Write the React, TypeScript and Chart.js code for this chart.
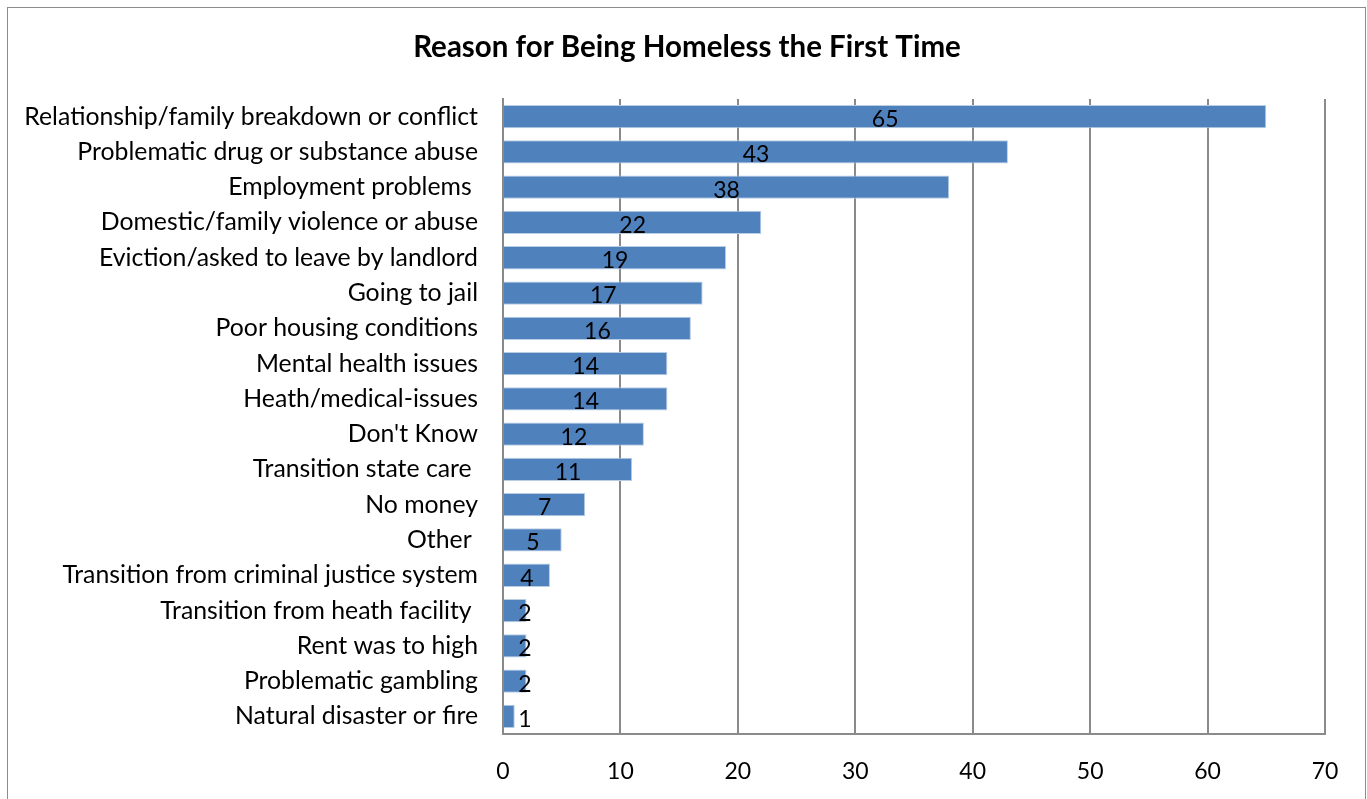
import React, { useEffect, useRef } from "react";
import { Chart, registerables } from "chart.js";

Chart.register(...registerables);

const categories = [
  "Relationship/family breakdown or conflict",
  "Problematic drug or substance abuse",
  "Employment problems ",
  "Domestic/family violence or abuse",
  "Eviction/asked to leave by landlord",
  "Going to jail",
  "Poor housing conditions",
  "Mental health issues",
  "Heath/medical-issues",
  "Don't Know",
  "Transition state care ",
  "No money",
  "Other ",
  "Transition from criminal justice system",
  "Transition from heath facility ",
  "Rent was to high",
  "Problematic gambling",
  "Natural disaster or fire",
];
const values = [65, 43, 38, 22, 19, 17, 16, 14, 14, 12, 11, 7, 5, 4, 2, 2, 2, 1];
const xTicks = [0, 10, 20, 30, 40, 50, 60, 70];
const titleText = "Reason for Being Homeless the First Time";

const FONT = "Lato, 'Open Sans', sans-serif";

const framePlugin = {
  id: "frame",
  beforeDraw(chart: any) {
    const ctx = chart.ctx;
    ctx.save();
    ctx.fillStyle = "#ffffff";
    ctx.fillRect(0, 0, chart.width, chart.height);
    ctx.strokeStyle = "#8c8c8c";
    ctx.lineWidth = 1;
    ctx.strokeRect(7.5, 7.5, 1358, 820);
    ctx.fillStyle = "#000000";
    ctx.font = `bold 29.5px ${FONT}`;
    ctx.textAlign = "center";
    ctx.textBaseline = "middle";
    ctx.fillText(titleText, 687, 47);
    ctx.restore();
  },
};

const labelPlugin = {
  id: "barLabels",
  afterDatasetsDraw(chart: any) {
    const ctx = chart.ctx;
    const meta = chart.getDatasetMeta(0);
    const left = chart.chartArea.left;
    ctx.save();
    ctx.fillStyle = "#000000";
    ctx.font = `23px ${FONT}`;
    ctx.textAlign = "center";
    ctx.textBaseline = "middle";
    meta.data.forEach((bar: any, i: number) => {
      const cx = Math.max((bar.base + bar.x) / 2, left + 22);
      ctx.fillText(String(values[i]), cx, bar.y + 3);
    });
    ctx.restore();
  },
};

export default function App() {
  const ref = useRef<HTMLCanvasElement | null>(null);
  useEffect(() => {
    if (!ref.current) return;
    const chart = new Chart(ref.current, {
      type: "bar",
      data: {
        labels: categories,
        datasets: [
          {
            data: values,
            backgroundColor: "#4f81bd",
            borderColor: "#b9cde5",
            borderWidth: 1,
            barPercentage: 0.66,
            categoryPercentage: 1,
          },
        ],
      },
      options: {
        indexAxis: "y",
        animation: false,
        responsive: false,
        maintainAspectRatio: false,
        layout: { padding: { top: 99, right: 42, bottom: 0, left: 0 } },
        plugins: {
          legend: { display: false },
          title: { display: false },
          tooltip: { enabled: false },
        },
        scales: {
          x: {
            min: 0,
            max: 70,
            afterBuildTicks(scale: any) {
              scale.ticks = xTicks.map((v) => ({ value: v }));
            },
            afterFit(scale: any) {
              scale.height = 65;
            },
            grid: { color: "#8a8a8a", lineWidth: 2, drawTicks: false },
            border: { color: "#8a8a8a", width: 2 },
            ticks: { color: "#000000", font: { family: FONT, size: 23 }, padding: 24 },
          },
          y: {
            afterFit(scale: any) {
              scale.width = 503;
            },
            grid: { display: false, drawTicks: false },
            border: { color: "#8a8a8a", width: 2 },
            ticks: { color: "#000000", font: { family: FONT, size: 24.8 }, padding: 25, autoSkip: false },
          },
        },
      },
      plugins: [framePlugin, labelPlugin],
    });
    return () => chart.destroy();
  }, []);
  return (
    <div style={{ position: "absolute", left: 0, top: 0, width: 1367, height: 799 }}>
      <canvas ref={ref} width={1367} height={799} style={{ display: "block" }} />
    </div>
  );
}
